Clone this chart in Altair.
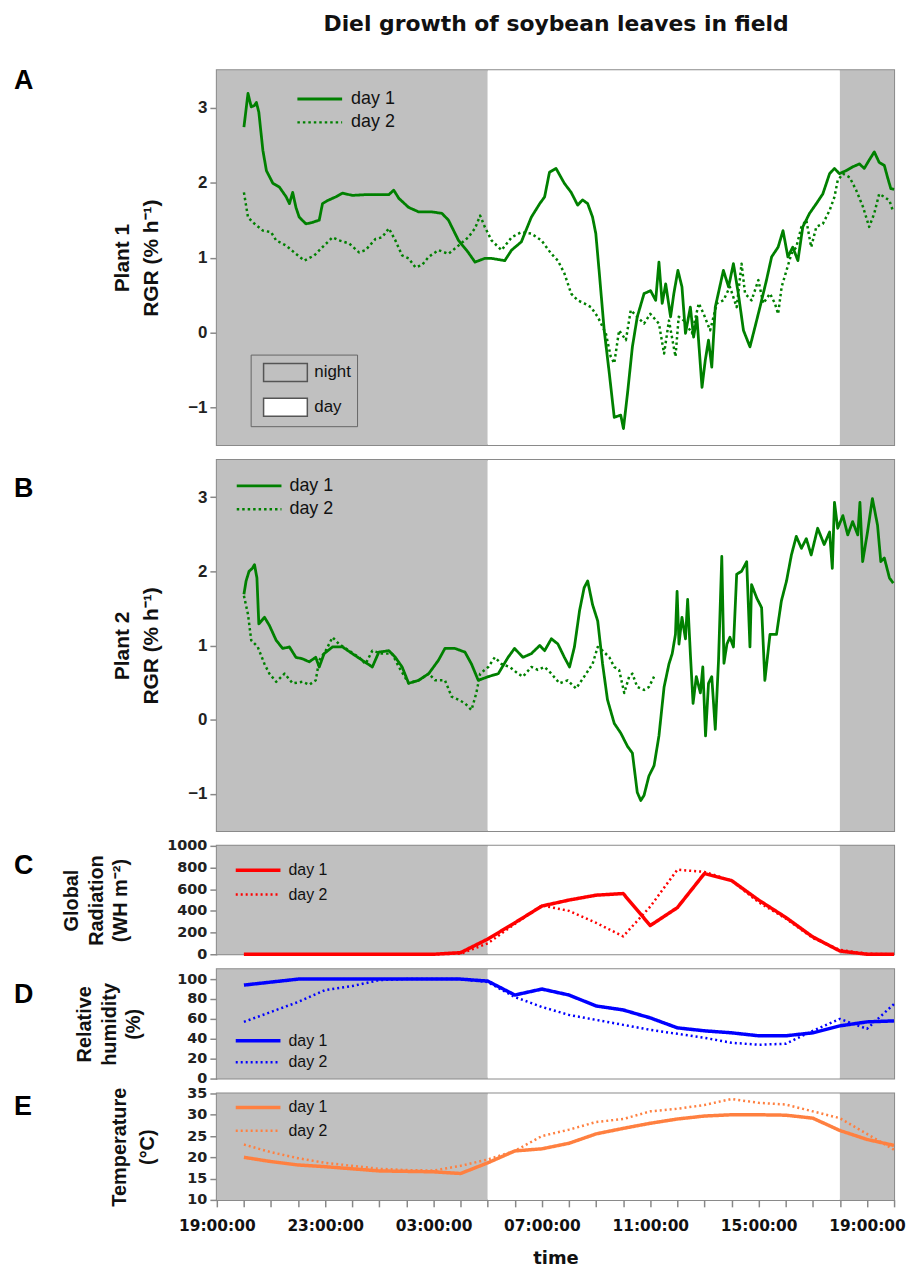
import json
import altair as alt
import pandas as pd

# ---------------- data ----------------
tick_labels = ["19:00:00", "23:00:00", "03:00:00", "07:00:00", "11:00:00", "15:00:00", "19:00:00"]
period_start = [0, 10, 23]
period_end = [10, 23, 25]
period_kind = ["night", "day", "night"]

# Plant 1, day 1 (hours after 19:00, RGR % h-1)
p1_d1_h = [1.00, 1.15, 1.27, 1.39, 1.46, 1.55, 1.70, 1.83, 2.07, 2.31, 2.56, 2.68, 2.80, 2.92, 3.04, 3.29, 3.53, 3.78, 3.90, 4.08,
           4.39, 4.64, 5.00, 5.49, 5.98, 6.35, 6.53, 6.72, 7.08, 7.45, 7.94, 8.31, 8.55, 8.92, 9.28, 9.53, 9.89, 10.14, 10.63, 10.88,
           11.24, 11.61, 11.92, 12.10, 12.28, 12.52, 12.83, 13.08, 13.32, 13.50, 13.69, 13.87, 13.99, 14.12, 14.30, 14.49, 14.67, 14.91, 15.01, 15.16,
           15.34, 15.52, 15.77, 16.01, 16.20, 16.32, 16.44, 16.57, 16.75, 16.87, 17.02, 17.17, 17.30, 17.48, 17.60, 17.72, 17.91, 18.03, 18.15, 18.27,
           18.40, 18.70, 18.89, 19.07, 19.25, 19.44, 19.68, 19.87, 20.05, 20.29, 20.48, 20.72, 20.90, 21.08, 21.26, 21.45, 21.63, 21.88, 22.13, 22.37,
           22.62, 22.80, 22.98, 23.23, 23.47, 23.72, 23.90, 24.08, 24.27, 24.45, 24.64, 24.76, 24.88, 25.00]
p1_d1_v = [2.74, 3.19, 3.01, 3.03, 3.07, 2.94, 2.43, 2.16, 1.99, 1.94, 1.81, 1.72, 1.87, 1.67, 1.54, 1.45, 1.47, 1.50, 1.72, 1.76,
           1.81, 1.86, 1.83, 1.84, 1.84, 1.84, 1.90, 1.79, 1.67, 1.61, 1.61, 1.59, 1.50, 1.23, 1.07, 0.94, 0.99, 0.99, 0.96, 1.10,
           1.21, 1.54, 1.72, 1.81, 2.14, 2.19, 1.99, 1.87, 1.70, 1.77, 1.72, 1.54, 1.32, 0.79, 0.03, -0.55, -1.13, -1.10, -1.28, -0.81,
           -0.19, 0.21, 0.52, 0.56, 0.43, 0.94, 0.39, 0.65, 0.21, 0.52, 0.83, 0.61, -0.01, 0.34, -0.06, 0.21, -0.73, -0.37, -0.10, -0.46,
           0.34, 0.83, 0.61, 0.92, 0.52, 0.03, -0.19, 0.08, 0.34, 0.70, 1.01, 1.14, 1.36, 1.01, 1.14, 0.96, 1.41, 1.59, 1.72, 1.85,
           2.12, 2.19, 2.12, 2.16, 2.21, 2.25, 2.19, 2.30, 2.41, 2.27, 2.23, 2.07, 1.92, 1.91]

# Plant 1, day 2
p1_d2_h = [1.00, 1.15, 1.33, 1.70, 2.00, 2.19, 2.56, 2.92, 3.23, 3.60, 3.90, 4.27, 4.51, 4.88, 5.25, 5.49, 5.86, 6.10, 6.35, 6.59,
           6.84, 7.08, 7.33, 7.57, 7.82, 8.18, 8.55, 8.92, 9.28, 9.53, 9.72, 9.89, 10.14, 10.51, 10.88, 11.24, 11.61, 11.98, 12.35, 12.59,
           12.83, 13.08, 13.32, 13.56, 13.81, 14.06, 14.36, 14.54, 14.67, 14.85, 15.10, 15.28, 15.52, 15.77, 16.00, 16.32, 16.51, 16.69, 16.93, 17.05,
           17.24, 17.54, 17.79, 17.97, 18.21, 18.46, 18.70, 18.94, 19.19, 19.37, 19.50, 19.74, 19.99, 20.17, 20.42, 20.60, 20.72, 20.85, 21.03, 21.21,
           21.39, 21.58, 21.76, 21.94, 22.13, 22.37, 22.62, 22.80, 22.92, 23.11, 23.36, 23.60, 23.85, 24.08, 24.27, 24.45, 24.64, 24.83, 24.97]
p1_d2_v = [1.87, 1.54, 1.47, 1.36, 1.34, 1.23, 1.16, 1.05, 0.96, 1.03, 1.14, 1.27, 1.23, 1.19, 1.07, 1.10, 1.25, 1.27, 1.39, 1.23,
           1.03, 0.99, 0.87, 0.90, 1.01, 1.10, 1.05, 1.16, 1.27, 1.39, 1.56, 1.41, 1.23, 1.10, 1.27, 1.34, 1.32, 1.23, 1.05, 0.96,
           0.79, 0.52, 0.43, 0.39, 0.34, 0.21, -0.01, -0.32, -0.41, 0.03, -0.10, 0.30, 0.21, 0.12, 0.25, 0.12, -0.28, 0.16, -0.32, 0.21,
           0.16, -0.01, 0.39, 0.25, 0.03, 0.39, 0.43, 0.61, 0.34, 0.92, 0.52, 0.43, 0.70, 0.39, 0.52, 0.39, 0.25, 0.61, 0.83, 1.05,
           1.14, 1.41, 1.50, 1.14, 1.41, 1.45, 1.63, 1.81, 2.03, 2.12, 2.07, 1.90, 1.68, 1.41, 1.59, 1.85, 1.81, 1.76, 1.61]

# Plant 2, day 1
p2_d1_h = [1.00, 1.08, 1.19, 1.31, 1.39, 1.48, 1.55, 1.76, 1.94, 2.19, 2.43, 2.68, 2.92, 3.16, 3.41, 3.65, 3.78, 3.96, 4.27, 4.64,
           5.00, 5.37, 5.74, 5.98, 6.35, 6.59, 6.84, 7.08, 7.45, 7.82, 8.18, 8.42, 8.79, 9.16, 9.40, 9.65, 10.02, 10.39, 10.75, 10.99,
           11.30, 11.61, 11.92, 12.10, 12.35, 12.59, 12.83, 13.02, 13.20, 13.39, 13.56, 13.69, 13.87, 14.06, 14.24, 14.42, 14.67, 14.91, 15.16, 15.34,
           15.52, 15.65, 15.77, 15.95, 16.14, 16.32, 16.51, 16.69, 16.81, 16.93, 16.99, 17.06, 17.17, 17.30, 17.38, 17.48, 17.58, 17.70, 17.85, 17.94,
           18.04, 18.15, 18.27, 18.40, 18.52, 18.64, 18.72, 18.83, 18.94, 19.07, 19.19, 19.37, 19.56, 19.68, 19.74, 19.93, 20.11, 20.23, 20.42, 20.66,
           20.84, 21.03, 21.21, 21.39, 21.58, 21.76, 21.94, 22.18, 22.42, 22.62, 22.72, 22.80, 22.92, 23.11, 23.29, 23.47, 23.66, 23.74, 23.84, 24.02,
           24.20, 24.39, 24.51, 24.64, 24.83, 24.97]
p2_d1_v = [1.69, 1.87, 2.00, 2.04, 2.09, 1.91, 1.29, 1.38, 1.27, 1.07, 0.96, 0.98, 0.84, 0.82, 0.78, 0.84, 0.71, 0.89, 0.98, 0.98,
           0.89, 0.80, 0.71, 0.91, 0.93, 0.84, 0.71, 0.49, 0.53, 0.62, 0.80, 0.96, 0.96, 0.91, 0.75, 0.53, 0.58, 0.62, 0.84, 0.96,
           0.84, 0.89, 1.00, 0.93, 1.09, 1.02, 0.84, 0.71, 0.98, 1.47, 1.78, 1.87, 1.55, 1.33, 0.75, 0.27, -0.05, -0.18, -0.36, -0.45,
           -0.98, -1.09, -1.02, -0.76, -0.62, -0.22, 0.44, 0.75, 0.89, 1.15, 1.73, 1.02, 1.38, 1.09, 1.62, 0.89, 0.22, 0.58, 0.36, 0.71,
           -0.22, 0.49, 0.58, -0.13, 0.80, 2.20, 0.76, 1.02, 1.11, 0.98, 1.96, 2.00, 2.13, 0.98, 1.82, 1.64, 1.51, 0.53, 1.15, 1.15,
           1.60, 1.87, 2.22, 2.47, 2.31, 2.44, 2.22, 2.58, 2.36, 2.53, 2.04, 2.93, 2.58, 2.75, 2.49, 2.67, 2.49, 2.93, 2.13, 2.53,
           2.98, 2.62, 2.13, 2.18, 1.91, 1.84]

# Plant 2, day 2
p2_d2_h = [1.00, 1.15, 1.27, 1.51, 1.76, 1.94, 2.19, 2.50, 2.80, 3.16, 3.41, 3.65, 3.78, 4.02, 4.27, 4.51, 4.88, 5.25, 5.49, 5.74,
           6.10, 6.47, 6.72, 7.08, 7.45, 7.82, 8.06, 8.42, 8.67, 8.92, 9.16, 9.40, 9.58, 9.72, 10.02, 10.26, 10.51, 10.81, 11.12, 11.30,
           11.61, 11.85, 12.10, 12.35, 12.65, 12.95, 13.26, 13.56, 13.87, 14.06, 14.24, 14.49, 14.67, 14.85, 15.04, 15.22, 15.34, 15.52, 15.77, 15.95,
           16.14]
p2_d2_v = [1.67, 1.42, 1.07, 0.98, 0.75, 0.62, 0.51, 0.62, 0.49, 0.51, 0.47, 0.53, 0.80, 0.93, 1.11, 1.02, 0.93, 0.84, 0.75, 0.93,
           0.89, 0.89, 0.71, 0.49, 0.53, 0.62, 0.53, 0.53, 0.31, 0.27, 0.22, 0.13, 0.36, 0.62, 0.71, 0.84, 0.75, 0.71, 0.62, 0.58,
           0.71, 0.67, 0.71, 0.62, 0.49, 0.53, 0.42, 0.58, 0.75, 0.98, 0.93, 0.84, 0.71, 0.67, 0.36, 0.58, 0.62, 0.44, 0.40, 0.44,
           0.58]

# hourly weather (hours after 19:00)
hours = list(range(1, 26))
rad_d1 = [0, 0, 0, 0, 0, 0, 0, 0, 15, 140, 290, 445, 500, 545, 560, 265, 430, 745, 680, 500, 340, 160, 30, 0, 0]
rad_d2 = [0, 0, 0, 0, 0, 0, 0, 0, 5, 100, 280, 450, 400, 290, 165, 440, 780, 760, 680, 480, 330, 150, 40, 5, 0]
hum_d1 = [94, 97, 100, 100, 100, 100, 100, 100, 100, 98, 84, 90, 84, 73, 69, 61, 51, 48, 46, 43, 43, 46, 53, 57, 58]
hum_d2 = [57, 67, 77, 89, 93, 99, 100, 100, 100, 97, 82, 72, 64, 59, 54, 49, 45, 41, 36, 34, 35, 48, 60, 50, 75]
temp_d1 = [20.0, 19.0, 18.2, 17.8, 17.3, 16.8, 16.7, 16.6, 16.2, 18.7, 21.5, 22.0, 23.3, 25.5, 26.8, 28.0, 29.0, 29.7, 30.0, 30.0,
           29.9, 29.2, 26.3, 24.2, 22.8]
temp_d2 = [23.0, 21.2, 19.8, 18.7, 18.0, 17.3, 17.0, 16.9, 18.0, 19.5, 21.5, 25.0, 26.5, 28.3, 29.0, 30.8, 31.4, 32.3, 33.7, 32.8,
           32.4, 30.8, 29.2, 25.5, 21.8]

# ---------------- helpers ----------------
ARIAL = "Liberation Sans, Arial, sans-serif"
WIDE = "DejaVu Sans, Verdana, sans-serif"
periods = pd.DataFrame({"start": period_start, "end": period_end, "period": period_kind})


def two_series(h1, v1, h2, v2):
    return pd.concat([
        pd.DataFrame({"h": h1, "v": v1, "series": "day 1"}),
        pd.DataFrame({"h": h2, "v": v2, "series": "day 2"}),
    ], ignore_index=True)


labels_js = json.dumps(tick_labels)
x_scale = alt.Scale(domain=[0, 25], nice=False, zero=False)


def panel(df, color, ydom, yvals, ytitle, letter, letter_y, height, leg, tick_font, tick_size,
          title_size, title_lh, title_pad, solid_w, dot_w, dash, x_axis=False, night_legend=False):
    if x_axis:
        xax = alt.Axis(values=list(range(26)), labelExpr=f"datum.value % 4 === 0 ? {labels_js}[datum.value / 4] : ''",
                       labelOverlap=False, labelFlush=False, tickSize=7, labelPadding=12, labelFont=WIDE,
                       labelFontSize=15.5, labelFontWeight="bold", labelColor="#111", title="time",
                       titleFont=WIDE, titleFontSize=18, titleFontWeight="bold", titlePadding=15, titleColor="#111")
    else:
        xax = None
    if night_legend:
        fleg = alt.Legend(title=None, orient="none", legendX=34, legendY=286, padding=6, strokeColor="#666",
                          symbolType="M-2,-0.82H2V0.82H-2Z", symbolSize=484, symbolStrokeColor="#555",
                          symbolStrokeWidth=1.5, symbolOpacity=1, symbolOffset=17, labelFont=ARIAL,
                          labelFontSize=17, labelColor="#111", labelOffset=17, rowPadding=9)
    else:
        fleg = None
    bg = alt.Chart(periods).mark_rect(strokeWidth=0).encode(
        x=alt.X("start:Q", scale=x_scale, axis=xax),
        x2="end:Q",
        fill=alt.Fill("period:N", scale=alt.Scale(domain=["night", "day"], range=["#c0c0c0", "#ffffff"]),
                      legend=fleg),
    )
    lines = alt.Chart(df).mark_line(color=color, strokeCap="butt", strokeJoin="round").encode(
        x=alt.X("h:Q", scale=x_scale, axis=xax),
        y=alt.Y("v:Q", scale=alt.Scale(domain=ydom, nice=False, zero=False),
                axis=alt.Axis(values=yvals, format="d", tickSize=7, labelPadding=3, labelFont=tick_font,
                              labelFontSize=tick_size, labelFontWeight="bold", labelColor="#222",
                              title=ytitle, titleFont=ARIAL, titleFontSize=title_size, titleFontWeight="bold",
                              titleLineHeight=title_lh, titlePadding=title_pad, titleColor="#111")),
        strokeDash=alt.StrokeDash("series:N", scale=alt.Scale(domain=["day 1", "day 2"], range=[[1, 0], dash]),
                                  legend=alt.Legend(title=None, orient="none", legendX=leg[0], legendY=leg[1],
                                                    symbolType="M-2,0H2", symbolSize=506, symbolStrokeWidth=3,
                                                    symbolStrokeColor=color, symbolOffset=10, labelFont=ARIAL,
                                                    labelFontSize=leg[2], labelColor="#111",
                                                    labelOffset=leg[3], rowPadding=leg[4])),
        strokeWidth=alt.StrokeWidth("series:N", scale=alt.Scale(domain=["day 1", "day 2"], range=[solid_w, dot_w]),
                                    legend=None),
    )
    lab = alt.Chart(pd.DataFrame({"letter": [letter]})).mark_text(
        font=ARIAL, fontSize=27, fontWeight="bold", align="left", baseline="alphabetic", color="#000"
    ).encode(text="letter:N", x=alt.value(-204), y=alt.value(letter_y))
    return alt.layer(bg, lines, lab).properties(width=681, height=height)


pA = panel(two_series(p1_d1_h, p1_d1_v, p1_d2_h, p1_d2_v), "#008000", [-1.5, 3.5], [-1, 0, 1, 2, 3],
           ["Plant 1", "RGR (% h\u207b\u00b9)"], "A", 19, 377, (80.5, 16, 18, 18.5, 2), ARIAL, 17,
           21, 29, 26, 2.8, 2.5, [2.5, 3], night_legend=True)
pB = panel(two_series(p2_d1_h, p2_d1_v, p2_d2_h, p2_d2_v), "#008000", [-1.5, 3.5], [-1, 0, 1, 2, 3],
           ["Plant 2", "RGR (% h\u207b\u00b9)"], "B", 37, 373, (19.5, 13, 18, 17.5, 2), ARIAL, 17,
           21, 29, 26, 2.8, 2.5, [2.5, 3])
pC = panel(two_series(hours, rad_d1, hours, rad_d2), "#ff0000", [0, 1000], [0, 200, 400, 600, 800, 1000],
           ["Global", "Radiation", "(WH m\u207b\u00b2)"], "C", 28, 109, (18.5, 11.5, 16, 17.5, 4), WIDE, 14.5,
           20, 25, 36, 3.5, 2.5, [2, 3])
pD = panel(two_series(hours, hum_d1, hours, hum_d2), "#0000ff", [0, 110], [0, 20, 40, 60, 80, 100],
           ["Relative", "humidity", "(%)"], "D", 34, 110, (18.5, 59, 16, 17.5, 1), WIDE, 14.5,
           20, 25, 33, 3.5, 2.5, [2, 3])
pE = panel(two_series(hours, temp_d1, hours, temp_d2), "#ff8040", [10, 35], [10, 15, 20, 25, 30, 35],
           ["Temperature", "(\u00b0C)"], "E", 22, 107, (18.5, 1, 16, 17.5, 3), WIDE, 14.5,
           20, 28, 30, 3.5, 2.5, [2, 3], x_axis=True)

chart = alt.vconcat(pA, pB, pC, pD, pE, spacing=15, bounds="flush").resolve_scale(
    y="independent", strokeDash="independent", fill="independent", strokeWidth="independent"
).resolve_legend(strokeDash="independent", fill="independent").properties(
    title=alt.TitleParams("Diel growth of soybean leaves in field", font=WIDE, fontSize=22, fontWeight="bold",
                          anchor="middle", offset=30, dx=97, color="#111"),
    padding={"left": 5, "top": 2, "right": 0, "bottom": 0},
).configure_view(stroke="#8a8a8a", strokeWidth=2).configure_axis(
    grid=False, domain=False, tickColor="#888", tickWidth=1.5
)

chart.save("out.html", embed_options={"renderer": "svg", "actions": False})
